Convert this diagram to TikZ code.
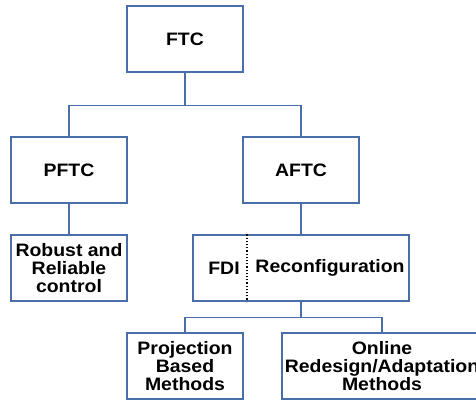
\documentclass[tikz,border=0pt]{standalone}
\usepackage{fontspec}
\setmainfont{Liberation Sans}[FakeStretch=1.08]
\definecolor{boxline}{RGB}{74,110,170}
\begin{document}
\begin{tikzpicture}[x=1pt,y=-1pt,
  box/.style={draw=boxline, line width=1.2pt, fill=white, minimum width=116pt, minimum height=66pt, inner sep=0pt, align=center,
    font=\fontsize{18}{18.3}\selectfont\bfseries},
  lbl/.style={inner sep=0pt, font=\fontsize{18}{18.3}\selectfont\bfseries},
  conn/.style={draw=boxline, line width=1.1pt}]
\useasboundingbox[fill=white] (0,0) rectangle (476,403);
\node[box] (ftc) at (185,39) {FTC};
\node[box] (pftc) at (69,170) {PFTC};
\node[box] (aftc) at (301,170) {AFTC};
\node[box] (robust) at (69,268) {Robust and\\Reliable\\control};
\node[box, minimum width=216pt] (fdibox) at (301,268) {};
\node[lbl] (fdi) at (224,268) {FDI};
\node[lbl] (recon) at (330,268) {Reconfiguration};
\draw[black, line width=1.2pt, dotted] (fdibox.north -| 247,0) -- (fdibox.south -| 247,0);
\node[box] (proj) at (185,366) {Projection\\Based\\Methods};
\begin{scope}
\clip (0,0) rectangle (476,403);
\node[box, minimum width=200pt] (online) at (382,366) {Online\\Redesign/Adaptation\\Methods};
\end{scope}
\draw[conn] (ftc.south) -- ++(0,33) -| (pftc.north);
\draw[conn] (ftc.south) -- ++(0,33) -| (aftc.north);
\draw[conn] (pftc.south) -- (robust.north);
\draw[conn] (aftc.south) -- (fdibox.north);
\draw[conn] (fdibox.south) -- ++(0,16) -| (proj.north);
\draw[conn] (fdibox.south) -- ++(0,16) -| (online.north);
\end{tikzpicture}
\end{document}
